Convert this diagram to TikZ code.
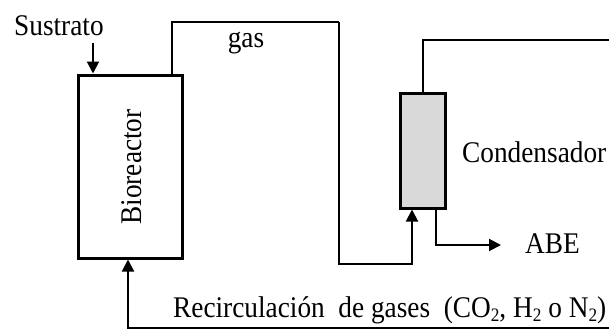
\documentclass[tikz,border=0pt]{standalone}
\usepackage{fontspec}
\setmainfont[FakeStretch=0.91]{Liberation Serif}
\usetikzlibrary{arrows.meta}
\newcommand{\subtwo}{\raisebox{-0.35ex}{\fontsize{19}{20}\selectfont 2}}
\begin{document}
\begin{tikzpicture}[x=1pt,y=-1pt,
  flow/.style={line width=2pt,-{Triangle[length=12pt,width=12pt]}},
  pipe/.style={line width=2pt},
  unitbox/.style={draw,line width=3pt,inner sep=0pt},
  lbl/.style={font=\fontsize{30}{34}\selectfont,inner sep=0pt}]
\useasboundingbox (0,0) rectangle (609,329);
\node[unitbox,minimum width=104pt,minimum height=183pt] (bio) at (130,166.5) {};
\node[lbl,rotate=90] (biot) at (132,167) {Bioreactor};
\node[unitbox,fill=black!15,minimum width=45pt,minimum height=115pt] (cond) at (422.5,150.5) {};
\node[lbl,anchor=base west] (sus) at (14,35) {Sustrato};
\node[lbl,anchor=base] (gas) at (246,48) {gas};
\node[lbl,anchor=base west] (condt) at (462,162) {Condensador};
\node[lbl,anchor=base west] (abe) at (525,253) {ABE};
\node[lbl,anchor=base west] (rec) at (173,317) {Recirculación\ \ de gases\ \ (CO\subtwo, H\subtwo{} o N\subtwo)};
\coordinate (s0) at (93,43);
\coordinate (g0) at (172,0);
\coordinate (g1) at (339,22);
\coordinate (g2) at (412,264);
\coordinate (t1) at (609,40);
\coordinate (a0) at (436,0);
\coordinate (a1) at (501,245);
\coordinate (r1) at (609,327.5);
\coordinate (r2) at (128,0);
\draw[flow] (s0) -- (bio.north -| s0);
\draw[pipe] (bio.north -| g0) |- (g1);
\draw[flow] (g1) |- (g2) -- (cond.south -| g2);
\draw[pipe] (cond.north) |- (t1);
\draw[flow] (cond.south -| a0) |- (a1);
\draw[flow] (r1) -| (bio.south -| r2);
\end{tikzpicture}
\end{document}
